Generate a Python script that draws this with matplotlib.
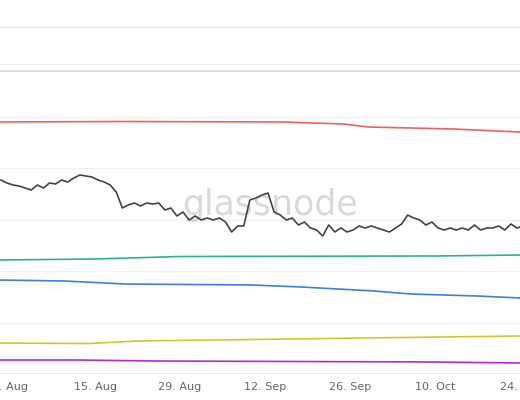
import matplotlib
matplotlib.use("Agg")
import matplotlib.pyplot as plt
import pandas as pd

tick_dates = ["2022-08-01", "2022-08-15", "2022-08-29", "2022-09-12", "2022-09-26", "2022-10-10", "2022-10-24"]
tick_labels = ["1. Aug", "15. Aug", "29. Aug", "12. Sep", "26. Sep", "10. Oct", "24. Oct"]

# values in chart units (higher number = lower on chart)
black = [180,183,185,186,188,190,185,188,183,184,180,182,178,175,176,177,180,182,185,192,
         208,205,203,206,203,204,203,210,208,216,212,220,216,220,218,220,218,222,232,226,
         226,200,198,195,193,212,215,220,218,225,222,228,230,236,225,232,228,232,230,226,
         228,226,228,230,232,228,224,215,218,220,225,222,228,230,228,230,228,230,225,230,
         228,228,226,230,224,228,226,228]
red_d = ["2022-07-30", "2022-08-20", "2022-09-15", "2022-09-25", "2022-09-29", "2022-10-13", "2022-10-24"]
red_v = [122, 121.5, 122, 124, 127, 129, 132]
green_d = ["2022-07-30", "2022-08-15", "2022-08-29", "2022-10-10", "2022-10-24"]
green_v = [260, 259, 256.5, 256, 255]
blue_d = ["2022-07-30", "2022-08-10", "2022-08-20", "2022-09-10", "2022-09-18", "2022-09-30", "2022-10-06", "2022-10-17", "2022-10-24"]
blue_v = [280, 281, 284, 285, 287, 291, 294, 296, 298]
yellow_d = ["2022-07-30", "2022-08-14", "2022-08-22", "2022-09-10", "2022-09-28", "2022-10-24"]
yellow_v = [343, 343.5, 341, 339.5, 338, 336]
purple_d = ["2022-07-30", "2022-08-12", "2022-08-25", "2022-10-10", "2022-10-24"]
purple_v = [360, 360, 361, 362, 363]

fig = plt.figure(figsize=(5.2, 4), dpi=100)
top = fig.add_axes([0, 0.825, 1, 0.175])
top.set_xlim(0, 1); top.set_ylim(70, 0)
for y in [27, 64]:
    top.axhline(y, color="#eeeeee", lw=1)
top.axis("off")

ax = fig.add_axes([0, 0.065, 1, 0.76])
ax.set_ylim(374, 70)
x0 = pd.Timestamp("2022-08-01") - pd.Timedelta(days=1.65)
x1 = pd.Timestamp("2022-08-01") + pd.Timedelta(days=84.0)
ax.set_xlim(x0, x1)
for y in [117, 168, 220, 271, 323]:
    ax.axhline(y, color="#f0f0f0", lw=1, zorder=0)
ax.axhline(70, color="#dcdcdc", lw=2)
ax.axhline(374, color="#e6e6e6", lw=1.2)

ax.plot(pd.date_range("2022-07-30 12:00", periods=len(black)), black, color="#444444", lw=1.2)
ax.plot(pd.to_datetime(red_d), red_v, color="#f0625e", lw=1.2)
ax.plot(pd.to_datetime(green_d), green_v, color="#2bb585", lw=1.2)
ax.plot(pd.to_datetime(blue_d), blue_v, color="#3f7fe0", lw=1.2)
ax.plot(pd.to_datetime(yellow_d), yellow_v, color="#d6c52a", lw=1.2)
ax.plot(pd.to_datetime(purple_d), purple_v, color="#b42ad0", lw=1.2)

ax.text(0.52, 0.555, "glassnode", transform=ax.transAxes, ha="center", va="center",
        fontsize=25, color="#d9d9d9", zorder=0)

ax.set_xticks(pd.to_datetime(tick_dates))
ax.set_xticklabels(tick_labels, fontsize=8, color="#666666")
ax.tick_params(axis="x", length=0, pad=6)
ax.set_yticks([])
for s in ax.spines.values():
    s.set_visible(False)
fig.savefig("out.png", dpi=100)
